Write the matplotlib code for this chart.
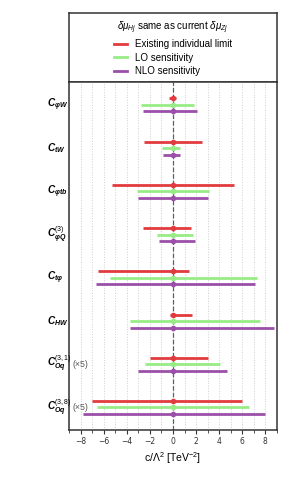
import matplotlib.pyplot as plt
import matplotlib.transforms as mtransforms
from matplotlib.lines import Line2D
from matplotlib.ticker import MultipleLocator

plt.rcParams['font.family'] = ['Liberation Sans', 'DejaVu Sans']
plt.rcParams['mathtext.fontset'] = 'custom'
plt.rcParams['mathtext.rm'] = 'Liberation Sans'
plt.rcParams['mathtext.it'] = 'Liberation Sans:italic'
plt.rcParams['mathtext.bf'] = 'Liberation Sans:bold'
plt.rcParams['mathtext.bfit'] = 'Liberation Sans:italic:bold'

# operatoren en schaalfactoren
operators = [r'$\mathbfit{C}_{\mathbfit{\varphi W}}$',
             r'$\mathbfit{C}_{\mathbfit{tW}}$',
             r'$\mathbfit{C}_{\mathbfit{\varphi tb}}$',
             r'$\mathbfit{C}^{(3)}_{\mathbfit{\varphi Q}}$',
             r'$\mathbfit{C}_{\mathbfit{t\varphi}}$',
             r'$\mathbfit{C}_{\mathbfit{HW}}$',
             r'$\mathbfit{C}^{(3,1)}_{\mathbfit{Oq}}$',
             r'$\mathbfit{C}^{(3,8)}_{\mathbfit{Oq}}$']
scale_notes = ['', '', '', '', '', '', '(×5)', '(×5)']

centre = [0, 0, 0, 0, 0, 0, 0, 0]
# bestaande limiet
red_lo = [-0.35, -2.5, -5.3, -2.6, -6.5, -0.25, -2.0, -7.0]
red_hi = [0.25, 2.5, 5.3, 1.55, 1.35, 1.65, 3.0, 6.0]
# LO gevoeligheid
green_lo = [-2.75, -0.95, -3.1, -1.4, -5.45, -3.75, -2.4, -6.55]
green_hi = [1.8, 0.6, 3.1, 1.7, 7.3, 7.55, 4.05, 6.6]
# NLO gevoeligheid
purple_lo = [-2.6, -0.85, -3.0, -1.2, -6.7, -3.75, -3.0, -7.85]
purple_hi = [2.05, 0.6, 3.05, 1.9, 7.1, 8.8, 4.65, 7.95]

series_names = ['Existing individual limit', 'LO sensitivity', 'NLO sensitivity']
colors = ['#e23b3f', '#98ec86', '#9b4fa8']
legend_title = r'$\delta\mu_{Hj}$ same as current $\delta\mu_{Zj}$'

fig = plt.figure(figsize=(2.91, 4.82), dpi=100)
ax_leg = fig.add_axes([0.238, 0.829, 0.713, 0.143])
ax = fig.add_axes([0.238, 0.108, 0.713, 0.721])

spine_color = '#333333'
for a in (ax_leg, ax):
    for s in a.spines.values():
        s.set_color(spine_color)
        s.set_linewidth(1.1)

offset = 0.15
series = [(red_lo, red_hi, -offset), (green_lo, green_hi, 0.0), (purple_lo, purple_hi, offset)]
for (lo, hi, dy), col in zip(series, colors):
    ys = [i + dy for i in range(len(centre))]
    xerr = [[c - l for c, l in zip(centre, lo)], [h - c for c, h in zip(centre, hi)]]
    ax.errorbar(centre, ys, xerr=xerr, fmt='o', ms=3, color=col, lw=2, capsize=0, zorder=3)

ax.axvline(0, color='#556070', ls='--', lw=0.9, zorder=2)
ax.set_xlim(-9, 9)
ax.set_ylim(len(centre) - 1 + 0.52, -0.52)
ax.xaxis.set_major_locator(MultipleLocator(2))
ax.xaxis.set_minor_locator(MultipleLocator(1))
ax.grid(axis='x', which='both', ls=':', color='#cfcfcf', lw=0.7, zorder=0)
ax.set_yticks([])
ax.tick_params(axis='x', which='major', length=3, width=0.8, labelsize=5.5, pad=2, colors=spine_color)
ax.tick_params(axis='x', which='minor', length=1.8, width=0.6, colors=spine_color)
for lab in ax.get_xticklabels():
    lab.set_fontfamily('DejaVu Sans')
ax.set_xlabel(r'c/$\Lambda^2$ [TeV$^{-2}$]', fontsize=7.5, labelpad=3)

trans = mtransforms.blended_transform_factory(ax.transAxes, ax.transData)
for i, (name, note) in enumerate(zip(operators, scale_notes)):
    ax.text(-0.108, i, name, transform=trans, ha='left', va='center', fontsize=7.2)
    if note:
        ax.text(0.014, i, note, transform=trans, ha='left', va='center', fontsize=6.3, color='#555555')

# bovenste paneel met legenda
ax_leg.set_xlim(-9, 9)
ax_leg.set_yticks([])
ax_leg.set_xticks([])
handles = [Line2D([], [], color=c, lw=2) for c in colors]
ax_leg.legend(handles, series_names, title=legend_title, loc='center', frameon=False,
              fontsize=7, title_fontsize=7, handlelength=1.4, labelspacing=0.35,
              borderaxespad=0.2)

fig.savefig('out.png', dpi=100)
